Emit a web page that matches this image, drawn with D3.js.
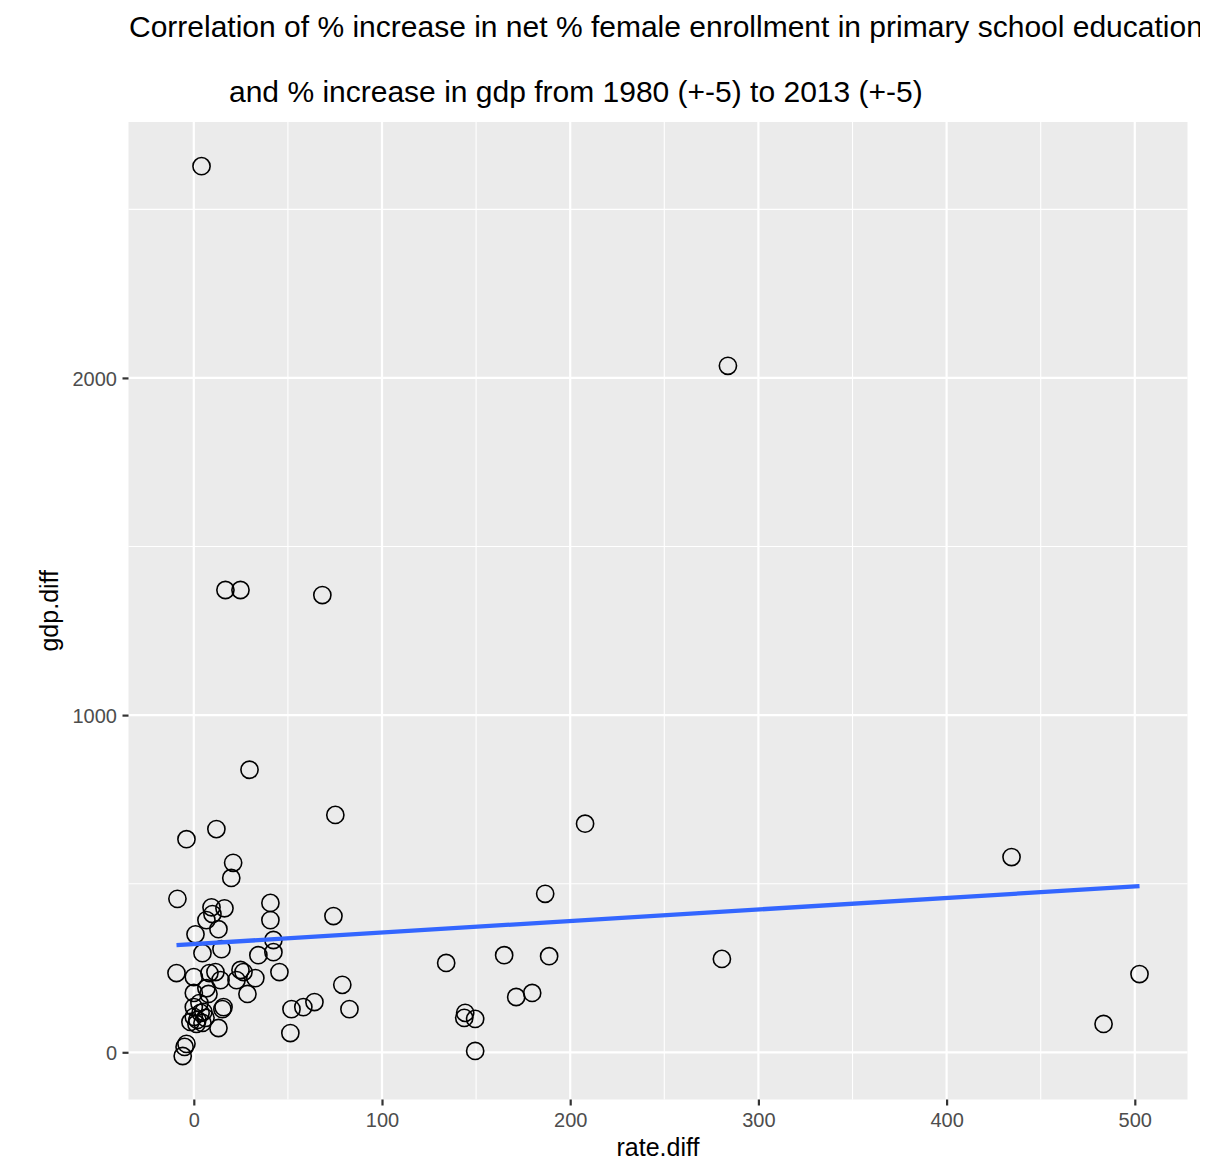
<!DOCTYPE html>
<html><head><meta charset="utf-8">
<script src="https://cdn.jsdelivr.net/npm/d3@7"></script>
<style>body{margin:0;background:#fff;} text{font-family:"Liberation Sans",Arial,sans-serif;}</style>
</head><body>
<svg id="chart" width="1224" height="1174"></svg>
<script>
const titleLines = ["Correlation of % increase in net % female enrollment in primary school education",
                    "and % increase in gdp from 1980 (+-5) to 2013 (+-5)"];
const xLabel = "rate.diff";
const yLabel = "gdp.diff";
const xTicks = [0,100,200,300,400,500];
const yTicks = [0,1000,2000];
const rateDiff = [4.1,283.8,16.8,24.8,68.3,29.6,75.2,207.9,12.0,-3.9,20.9,19.9,434.5,186.7,-8.7,40.7,9.4,16.3,9.9,40.7,
  74.2,6.7,13.1,0.9,42.3,14.7,34.3,4.6,42.3,164.9,188.8,134.1,280.6,502.5,-9.2,0,8.3,11.5,14.2,24.8,
  26.4,22.7,32.7,45.5,78.9,0,7.8,28.5,6.7,171.3,179.8,0,15.8,15.2,51.9,58.2,64.1,82.7,3.0,5.1,
  0,1.9,3.6,6.2,1.4,-1.8,4.6,13.1,144.2,143.7,149.5,51.3,149.5,483.4,-3.9,-4.9,-5.9];
const gdpDiff = [2628,2036,1371,1371,1356,838,704,678,662,632,562,517,579,470,455,443,430,427,410,392,
  404,392,365,350,333,306,288,294,297,288,285,265,277,232,235,223,235,238,214,244,
  238,214,220,238,200,176,173,173,190,164,176,134,134,128,128,134,149,128,146,120,
  105,96,117,102,84,90,87,72,117,102,99,57,4,84,25,16,-11];
// linear fit (geom_smooth, method = "lm")
const fitIntercept = 321;
const fitSlope = 0.342;

const svg = d3.select("#chart");
const m = {l:128.5, r:1187.5, t:122, b:1099.5};
const x = d3.scaleLinear().domain([-34.7, 528]).range([m.l, m.r]);
const y = d3.scaleLinear().domain([-140, 2759]).range([m.b, m.t]);

svg.append("rect").attr("x",m.l).attr("y",m.t).attr("width",m.r-m.l).attr("height",m.b-m.t).attr("fill","#EBEBEB");

const xMinor = d3.range(-50, 551, 100).filter(v=>v>x.domain()[0]&&v<x.domain()[1]);
const yMinor = [-500,500,1500,2500].filter(v=>v>y.domain()[0]&&v<y.domain()[1]);
const g = svg.append("g");
g.selectAll(".xm").data(xMinor).join("line").attr("x1",d=>x(d)).attr("x2",d=>x(d)).attr("y1",m.t).attr("y2",m.b).attr("stroke","#fff").attr("stroke-width",1.1);
g.selectAll(".ym").data(yMinor).join("line").attr("y1",d=>y(d)).attr("y2",d=>y(d)).attr("x1",m.l).attr("x2",m.r).attr("stroke","#fff").attr("stroke-width",1.1);
g.selectAll(".xM").data(xTicks).join("line").attr("x1",d=>x(d)).attr("x2",d=>x(d)).attr("y1",m.t).attr("y2",m.b).attr("stroke","#fff").attr("stroke-width",2.2);
g.selectAll(".yM").data(yTicks).join("line").attr("y1",d=>y(d)).attr("y2",d=>y(d)).attr("x1",m.l).attr("x2",m.r).attr("stroke","#fff").attr("stroke-width",2.2);

// axes
const xAxis = svg.append("g").attr("transform",`translate(0,${m.b})`)
  .call(d3.axisBottom(x).tickValues(xTicks).tickSize(6).tickFormat(d3.format("d")));
const yAxis = svg.append("g").attr("transform",`translate(${m.l},0)`)
  .call(d3.axisLeft(y).tickValues(yTicks).tickSize(6).tickFormat(d3.format("d")));
[xAxis,yAxis].forEach(a=>{
  a.select(".domain").remove();
  a.selectAll(".tick line").attr("stroke","#333").attr("stroke-width",2.2);
  a.selectAll(".tick text").attr("fill","#4d4d4d").style("font-size","20px").style("font-family","Liberation Sans, Arial, sans-serif");
});
xAxis.selectAll(".tick text").attr("y",27.5).attr("dy",null);
yAxis.selectAll(".tick text").attr("x",-11.5).attr("dy","0.36em");

// points
const pts = rateDiff.map((v,i)=>({x:v,y:gdpDiff[i]}));
svg.append("g").selectAll("circle").data(pts).join("circle")
  .attr("cx",d=>x(d.x)).attr("cy",d=>y(d.y)).attr("r",8.6)
  .attr("fill","none").attr("stroke","#000").attr("stroke-width",1.6);

// linear fit line across data range
const [x0,x1] = d3.extent(rateDiff);
svg.append("line").attr("x1",x(x0)).attr("y1",y(fitIntercept+fitSlope*x0)).attr("x2",x(x1)).attr("y2",y(fitIntercept+fitSlope*x1))
  .attr("stroke","#3366FF").attr("stroke-width",4.3);

// titles
svg.append("clipPath").attr("id","tc").append("rect").attr("x",0).attr("y",0).attr("width",1200).attr("height",120);
const tg = svg.append("g").attr("clip-path","url(#tc)");
tg.append("text").attr("x",129).attr("y",37).style("font-size","30px").attr("fill","#000").text(titleLines[0]);
tg.append("text").attr("x",229).attr("y",102).style("font-size","30px").attr("fill","#000").text(titleLines[1]);

svg.append("text").attr("x",(m.l+m.r)/2).attr("y",1156).attr("text-anchor","middle").style("font-size","25px").text(xLabel);
svg.append("text").attr("transform",`translate(58,${(m.t+m.b)/2}) rotate(-90)`).attr("text-anchor","middle").style("font-size","25px").text(yLabel);
</script>
</body></html>
